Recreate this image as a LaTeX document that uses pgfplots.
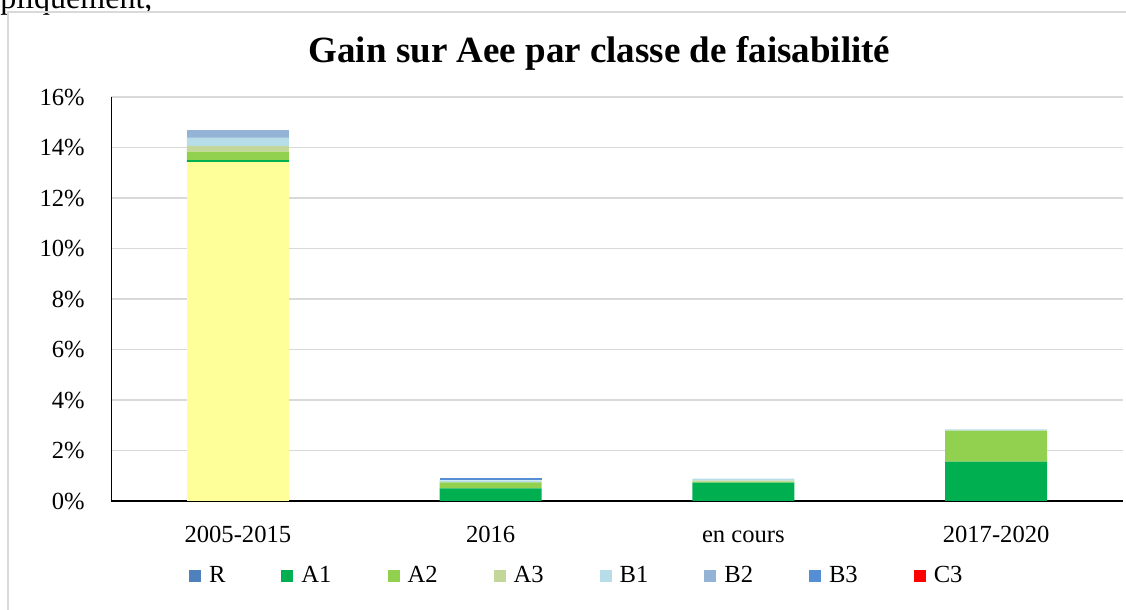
\documentclass[border=0pt]{standalone}
\usepackage{fontspec}
\setmainfont{Liberation Serif}
\usepackage{pgfplots}
\pgfplotsset{compat=1.18}
\definecolor{cY}{HTML}{FFFF99}
\definecolor{cR}{HTML}{4F81BD}
\definecolor{cA1}{HTML}{00B050}
\definecolor{cA2}{HTML}{92D050}
\definecolor{cA3}{HTML}{C4D79B}
\definecolor{cB1}{HTML}{B7DEE8}
\definecolor{cB2}{HTML}{95B3D7}
\definecolor{cB3}{HTML}{558ED5}
\definecolor{cC3}{HTML}{FF0000}
\definecolor{gridgray}{HTML}{D9D9D9}
\begin{document}
\begin{tikzpicture}
\useasboundingbox[clip] (0pt,0pt) rectangle (563pt,305pt);
\node[anchor=base west, inner sep=0pt, font=\fontsize{16}{19}\selectfont] at (0pt,300.5pt) {pliquement,};
\draw[color=gridgray, line width=1pt] (4pt,-5pt) -- (4pt,298.75pt) -- (570pt,298.75pt);
\node[anchor=base, inner sep=0pt, font=\bfseries\fontsize{18.5}{22}\selectfont] at (299.75pt,273.75pt) {Gain sur Aee par classe de faisabilité};
\begin{axis}[
  at={(55.75pt,54.5pt)}, anchor=south west, scale only axis,
  width=505.5pt, height=202pt,
  ybar stacked, bar width=51pt,
  xmin=-0.5, xmax=3.5, ymin=0, ymax=16,
  enlargelimits=false,
  xtick={0,1,2,3},
  xticklabels={2005-2015,2016,en cours,2017-2020},
  ytick={0,2,...,16},
  yticklabel={\pgfmathprintnumber{\tick}\%},
  /pgf/number format/assume math mode=true,
  axis lines*=left,
  axis line style={black, line width=0.75pt},
  major tick length=0pt,
  tick style={draw=none},
  ymajorgrids,
  grid style={color=gridgray, line width=0.7pt},
  tick label style={font=\fontsize{12.3}{14}\selectfont},
  yticklabel style={anchor=east, inner sep=0pt, xshift=-13.25pt},
  xticklabel style={anchor=base, inner sep=0pt, yshift=-21pt},
  legend columns=8,
  legend style={at={(0.0767,-0.1856)}, anchor=west, draw=none, fill=none,
    inner sep=0pt, outer sep=0pt, font=\fontsize{12.3}{14}\selectfont,
    nodes={inner sep=0pt},
    /tikz/every even column/.append style={column sep=28pt}},
  legend image code/.code={\fill[#1] (0pt,-3pt) rectangle (6pt,3pt); \path (10pt,0pt);},
]
\addplot[fill=cY, draw=none, forget plot] coordinates {(0,13.42) (1,0) (2,0) (3,0)};
\addplot[fill=cR, draw=none] coordinates {(0,0) (1,0) (2,0) (3,0)};
\addplot[fill=cA1, draw=none] coordinates {(0,0.08) (1,0.50) (2,0.73) (3,1.56)};
\addplot[fill=cA2, draw=none] coordinates {(0,0.34) (1,0.24) (2,0.04) (3,1.23)};
\addplot[fill=cA3, draw=none] coordinates {(0,0.22) (1,0) (2,0.04) (3,0)};
\addplot[fill=cB1, draw=none] coordinates {(0,0.33) (1,0.08) (2,0.08) (3,0.05)};
\addplot[fill=cB2, draw=none] coordinates {(0,0.30) (1,0) (2,0) (3,0)};
\addplot[fill=cB3, draw=none] coordinates {(0,0) (1,0.08) (2,0) (3,0)};
\addplot[fill=cC3, draw=none] coordinates {(0,0) (1,0) (2,0) (3,0)};
\legend{R,A1,A2,A3,B1,B2,B3,C3}
\end{axis}
\end{tikzpicture}
\end{document}
